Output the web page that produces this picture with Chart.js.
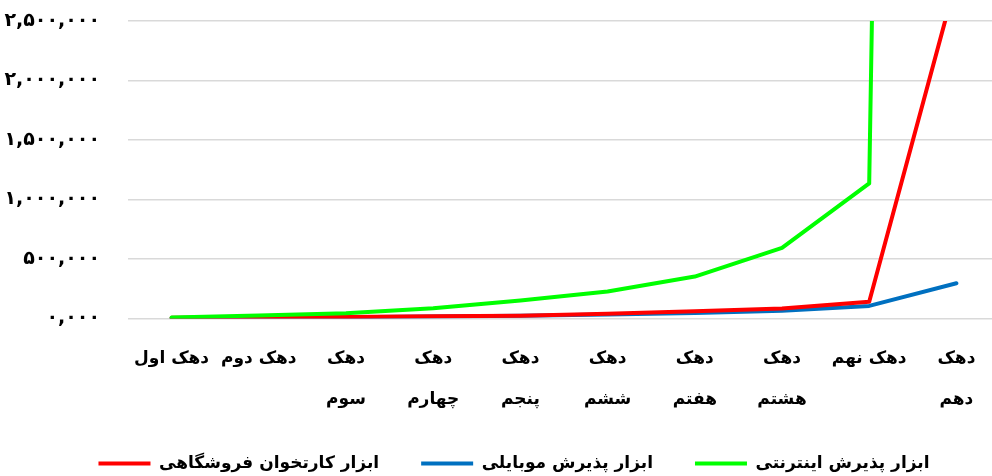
<!DOCTYPE html>
<html>
<head>
<meta charset="utf-8">
<script src="https://cdn.jsdelivr.net/npm/chart.js@4"></script>
<style>
html,body{margin:0;padding:0;background:#fff;overflow:hidden;}
#wrap{width:1000px;height:482px;position:relative;}
</style>
</head>
<body>
<div id="wrap"><canvas id="c"></canvas></div>
<script>
const categories = [
  ['دهک اول'],
  ['دهک دوم'],
  ['دهک', 'سوم'],
  ['دهک', 'چهارم'],
  ['دهک', 'پنجم'],
  ['دهک', 'ششم'],
  ['دهک', 'هفتم'],
  ['دهک', 'هشتم'],
  ['دهک نهم'],
  ['دهک', 'دهم']
];
const seriesNames = ['ابزار کارتخوان فروشگاهی', 'ابزار پذیرش موبایلی', 'ابزار پذیرش اینترنتی'];
const posValues      = [5000, 8000, 12000, 18000, 22000, 40000, 60000, 84000, 140000, 2850000];
const mobileValues   = [3000, 6000, 10000, 17000, 22000, 32000, 46000, 65000, 105000, 295000];
const internetValues = [8000, 25000, 44000, 85000, 150000, 226000, 352000, 593000, 1135000, 45000000];
const yTickValues = [0, 500000, 1000000, 1500000, 2000000, 2500000];
const yTickLabels = ['۰,۰۰۰', '۵۰۰,۰۰۰', '۱,۰۰۰,۰۰۰', '۱,۵۰۰,۰۰۰', '۲,۰۰۰,۰۰۰', '۲,۵۰۰,۰۰۰'];
const colors = ['#ff0000', '#0070c0', '#00ff00'];

const FONT = "'DejaVu Sans', sans-serif";
function ds(label, data, color, order) {
  return {label, data, borderColor: color, backgroundColor: color, borderWidth: 4,
    pointRadius: 0, pointHoverRadius: 0, tension: 0, fill: false,
    borderCapStyle: 'round', borderJoinStyle: 'round', order};
}
const shiftLegend = {
  id: 'shiftLegend',
  afterLayout(chart) {
    const l = chart.legend;
    if (l) { l.left += 14; l.right += 14; }
  }
};
new Chart(document.getElementById('c'), {
  type: 'line',
  plugins: [shiftLegend],
  data: {
    labels: categories,
    datasets: [
      ds(seriesNames[0], posValues, colors[0], 1),
      ds(seriesNames[1], mobileValues, colors[1], 2),
      ds(seriesNames[2], internetValues, colors[2], 0)
    ]
  },
  options: {
    responsive: true,
    maintainAspectRatio: false,
    animation: false,
    layout: {padding: {top: 0, right: 0, left: 0, bottom: 0}},
    plugins: {
      tooltip: {enabled: false},
      legend: {
        position: 'bottom',
        labels: {
          usePointStyle: true,
          pointStyle: 'line',
          pointStyleWidth: 52,
          padding: 42,
          color: '#000',
          sort: (a, b) => a.datasetIndex - b.datasetIndex,
          font: {family: FONT, size: 17, weight: 'bold'}
        }
      }
    },
    scales: {
      x: {
        offset: true,
        grid: {display: false, drawTicks: false},
        border: {display: false},
        afterFit: (s) => { s.height -= 27; },
        ticks: {
          color: '#000', maxRotation: 0, autoSkip: false, padding: 20,
          font: {family: FONT, size: 17, weight: 'bold', lineHeight: 2.4}
        }
      },
      y: {
        min: 0, max: 2500000,
        afterBuildTicks: (s) => { s.ticks = yTickValues.map(v => ({value: v})); },
        afterFit: (s) => { s.width = 128; s.paddingTop = 21; s.paddingBottom = 0; },
        grid: {color: '#d9d9d9', lineWidth: 1.5, drawTicks: false},
        border: {display: false},
        ticks: {
          color: '#000', padding: 28,
          font: {family: FONT, size: 19, weight: 'bold'},
          callback: (v) => { const i = yTickValues.indexOf(v); return i >= 0 ? yTickLabels[i] : ''; }
        }
      }
    }
  }
});
</script>
</body>
</html>
